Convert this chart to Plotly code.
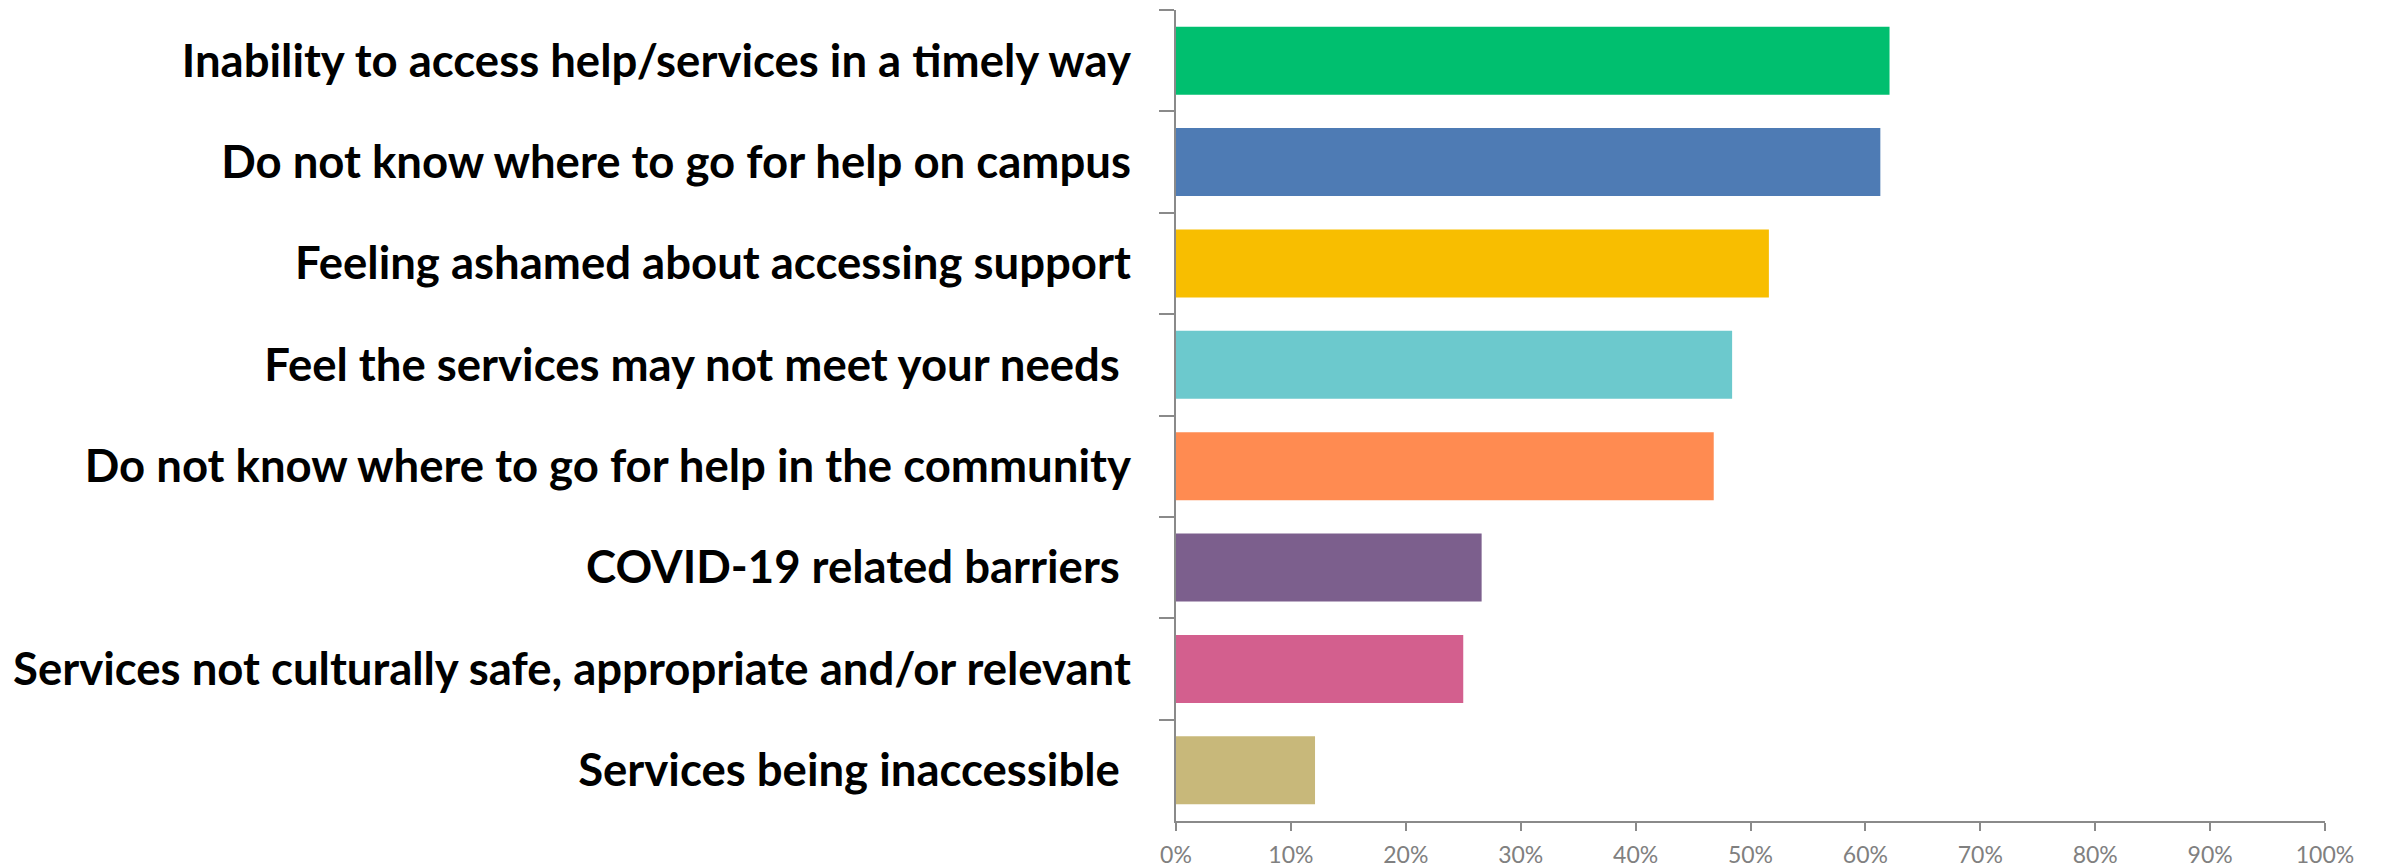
import plotly.graph_objects as go

categories = [
    "Inability to access help/services in a timely way",
    "Do not know where to go for help on campus",
    "Feeling ashamed about accessing support",
    "Feel the services may not meet your needs\u00a0",
    "Do not know where to go for help in the community",
    "COVID-19 related barriers\u00a0",
    "Services not culturally safe, appropriate and/or relevant",
    "Services being inaccessible\u00a0",
]
values = [0.621, 0.613, 0.516, 0.484, 0.468, 0.266, 0.250, 0.121]
colors = ["#00BF6F", "#4E7BB4", "#F8BE00", "#6CC9CD", "#FF8B51", "#7C5F8D", "#D35F8E", "#C8B87A"]
x_ticks = [i / 10 for i in range(11)]

fig = go.Figure(go.Bar(
    x=values, y=categories, orientation="h",
    marker=dict(color=colors, line=dict(width=0)),
    hoverinfo="x+y",
))

axis_gray = "#8a8a8a"
fig.update_layout(
    width=2381, height=867,
    margin=dict(l=1176, r=56, t=10, b=46, autoexpand=False),
    paper_bgcolor="white", plot_bgcolor="white",
    bargap=0.33,
    showlegend=False,
    xaxis=dict(
        range=[0, 1], tickvals=x_ticks, tickformat=".0%",
        automargin=False,
        showgrid=False, zeroline=False,
        showline=True, linecolor=axis_gray, linewidth=2,
        ticks="outside", ticklen=8, tickwidth=2, tickcolor=axis_gray,
        tickfont=dict(family="Lato", size=23, color="#808080"),
        ticklabelstandoff=4,
    ),
    yaxis=dict(
        autorange="reversed", type="category",
        automargin=False,
        showgrid=False, zeroline=False,
        showline=True, linecolor=axis_gray, linewidth=2,
        ticks="outside", ticklen=15, tickwidth=2, tickcolor=axis_gray,
        tickson="boundaries",
        tickfont=dict(family="Lato", size=45.5, color="black", weight="bold"),
        ticklabelstandoff=34,
    ),
)

fig.write_html("out.html")
